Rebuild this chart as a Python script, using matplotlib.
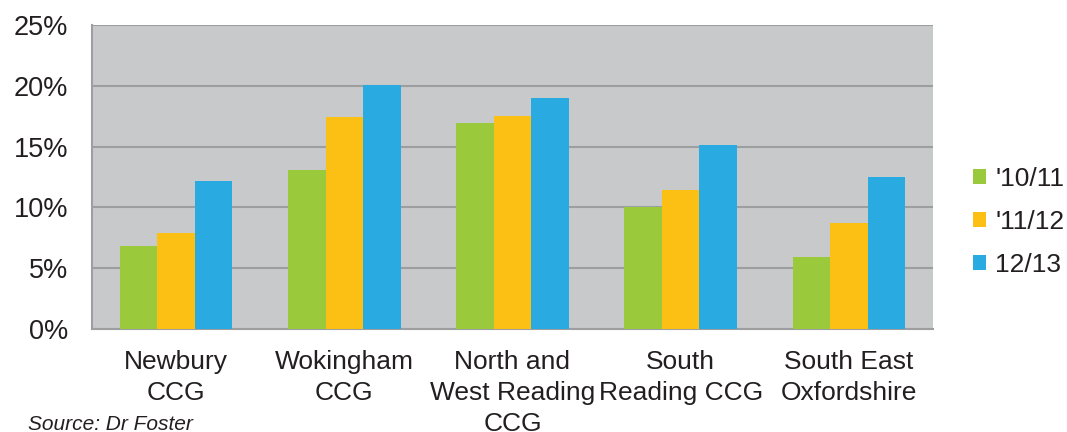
import matplotlib

matplotlib.use("Agg")
import matplotlib.pyplot as plt
import numpy as np

plt.rcParams["font.family"] = ["Liberation Sans", "DejaVu Sans"]

areas = [
    "Newbury\nCCG",
    "Wokingham\nCCG",
    "North and\nWest Reading\nCCG",
    "South\nReading CCG",
    "South East\nOxfordshire",
]
years = ["'10/11", "'11/12", "12/13"]
rate_1011 = [6.8, 13.1, 16.9, 10.0, 5.9]
rate_1112 = [7.9, 17.4, 17.5, 11.4, 8.7]
rate_1213 = [12.2, 20.1, 19.0, 15.1, 12.5]
y_ticks = [0, 5, 10, 15, 20, 25]

colors = ["#9AC93C", "#FCC015", "#29ABE2"]
text_color = "#231F20"

fig = plt.figure(figsize=(10.67, 4.32), dpi=100)
ax = fig.add_axes([92 / 1067, 1 - 329 / 432, (933 - 92) / 1067, (329 - 25) / 432])
ax.set_facecolor("#C8C9CB")

x = np.arange(len(areas))
width = 0.223
for i, (vals, label) in enumerate(zip([rate_1011, rate_1112, rate_1213], years)):
    ax.bar(x + (i - 1) * width, vals, width, color=colors[i], label=label, zorder=3)

ax.set_xlim(-0.5, len(areas) - 0.5)
ax.set_ylim(0, 25)
ax.set_yticks(y_ticks)
ax.set_yticklabels([f"{t}%" for t in y_ticks], fontsize=19.5, color=text_color)
ax.yaxis.grid(True, color="#9D9EA0", linewidth=1.5, zorder=1)
ax.set_xticks(x)
ax.set_xticklabels(areas, fontsize=19, color=text_color, linespacing=1.38)
ax.tick_params(axis="both", length=0)
ax.tick_params(axis="x", pad=15)
ax.tick_params(axis="y", pad=17)

for side in ["top", "right"]:
    ax.spines[side].set_visible(False)
for side in ["left", "bottom"]:
    ax.spines[side].set_color("#9D9EA0")
    ax.spines[side].set_linewidth(1.5)

fig.legend(
    *ax.get_legend_handles_labels(),
    loc="center left",
    bbox_to_anchor=(973 / 1067, 1 - 222 / 432),
    bbox_transform=fig.transFigure,
    frameon=False,
    fontsize=19,
    handlelength=0.5,
    handleheight=0.5,
    handletextpad=0.35,
    labelspacing=0.72,
    borderaxespad=0,
    borderpad=0,
    labelcolor=text_color,
)

fig.text(28 / 1067, 1 - 424 / 432, "Source: Dr Foster", fontsize=15,
         style="italic", color=text_color, va="center")

fig.savefig("out.png", dpi=100)
